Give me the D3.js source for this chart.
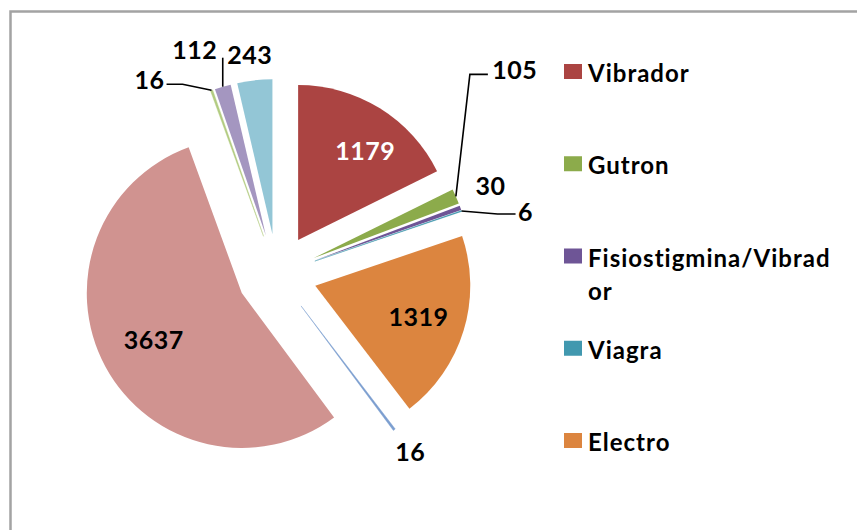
<!DOCTYPE html>
<html>
<head>
<meta charset="utf-8">
<script src="https://cdn.jsdelivr.net/npm/d3@7"></script>
<style>
  body { margin: 0; background: #fff; }
  svg text { font-family: Lato, "Open Sans", sans-serif; font-weight: 700; }
</style>
</head>
<body>
<div class="canvas"></div>
<script>
// values in slice order, clockwise from 12 o'clock
const values = [1179, 105, 30, 6, 1319, 16, 3637, 16, 112, 243];
// only the first five categories fit in the legend
const categories = ['Vibrador', 'Gutron', 'Fisiostigmina/Vibrador', 'Viagra', 'Electro'];
const colours = [
    '#ab4442', '#8cab4b', '#6e5596', '#4198af', '#dc853f',
    '#7c9ed0', '#d09390', '#b3cc82', '#a496c0', '#93c6d6'
];

const dimensions = { width: 857, height: 530 };
const centre = { x: 277, y: 274 };
const radius = 155;
const explode = 40;

// label placement: inside labels sit on the mid angle, outside ones are nudged off the rim
const labelPlace = [
    { inside: true, r: 150, dx: 9, dy: 4, fill: '#fff' },
    { dx: 59, dy: -126, leader: [[-45, 4], [-27, 4]] },
    { dx: 30, dy: -22 },
    { dx: 64, dy: 1, leader: [[-28, 2], [-10, 2]] },
    { inside: true, r: 148, dx: 0, dy: 0 },
    { dx: 16, dy: 22 },
    { inside: true, r: 140, dx: 0, dy: 0 },
    { dx: -62, dy: -10, leader: [[33, 4], [17, 4]] },
    { dx: -28, dy: -37, leader: [[28, 8]] },
    { dx: -5, dy: -25 }
];

const svg = d3.select('.canvas')
    .append('svg')
    .attr('width', dimensions.width)
    .attr('height', dimensions.height);

// chart area border (runs off the right and bottom of the picture)
svg.append('rect')
    .attr('x', 10.5)
    .attr('y', 11.5)
    .attr('width', 1000)
    .attr('height', 1000)
    .attr('fill', 'none')
    .attr('stroke', '#a3a3a3')
    .attr('stroke-width', 2.5);

const pie = d3.pie().sort(null).value(d => d);
const arc = d3.arc().innerRadius(0).outerRadius(radius);
const arcs = pie(values);

const dir = a => [Math.sin(a), -Math.cos(a)];
const mid = d => (d.startAngle + d.endAngle) / 2;

const graph = svg.append('g')
    .attr('transform', `translate(${centre.x}, ${centre.y})`);

graph.selectAll('.slice')
    .data(arcs)
    .enter()
    .append('path')
        .attr('class', 'slice')
        .attr('fill', (d, i) => colours[i])
        .attr('stroke', (d, i) => d.value < 20 ? colours[i] : 'none')
        .attr('stroke-width', 0.4)
        .attr('d', arc)
        .attr('transform', d => {
            const [x, y] = dir(mid(d));
            return `translate(${x * explode}, ${y * explode})`;
        });

// label positions
const labels = arcs.map((d, i) => {
    const p = labelPlace[i];
    const [ux, uy] = dir(mid(d));
    const rim = [ux * (radius + explode), uy * (radius + explode)];
    const pos = p.inside
        ? [ux * p.r + p.dx, uy * p.r + p.dy]
        : [rim[0] + p.dx, rim[1] + p.dy];
    return { value: d.value, rim, pos, place: p };
});

const leader = d3.line();
graph.selectAll('.leader')
    .data(labels.filter(l => l.place.leader))
    .enter()
    .append('path')
        .attr('class', 'leader')
        .attr('fill', 'none')
        .attr('stroke', '#000')
        .attr('stroke-width', 1.6)
        .attr('d', l => leader([l.rim].concat(l.place.leader.map(o => [l.pos[0] + o[0], l.pos[1] + o[1]]))));

graph.selectAll('.label')
    .data(labels)
    .enter()
    .append('text')
        .attr('class', 'label')
        .attr('x', l => l.pos[0])
        .attr('y', l => l.pos[1])
        .attr('dy', '0.36em')
        .attr('text-anchor', 'middle')
        .attr('font-size', 25)
        .attr('letter-spacing', 0.5)
        .attr('fill', l => l.place.fill || '#000')
        .text(l => l.value);

// legend
const legendY = d3.scalePoint()
    .domain(categories)
    .range([64, 433]);

const legend = svg.selectAll('.legend')
    .data(categories)
    .enter()
    .append('g')
        .attr('class', 'legend')
        .attr('transform', d => `translate(564, ${legendY(d)})`);

legend.append('rect')
    .attr('width', 18)
    .attr('height', 15)
    .attr('fill', (d, i) => colours[i]);

legend.append('text')
    .attr('x', 24)
    .attr('y', 18)
    .attr('font-size', 24)
    .attr('letter-spacing', 1)
    .attr('fill', '#000')
    .each(function (d) {
        // break long names by character like the original legend does
        const text = d3.select(this);
        const maxWidth = 250;
        let line = '';
        let tspan = text.append('tspan').attr('x', 24).attr('dy', 0);
        for (const ch of d) {
            tspan.text(line + ch);
            if (tspan.node().getComputedTextLength() > maxWidth && line) {
                tspan.text(line);
                line = ch;
                tspan = text.append('tspan').attr('x', 24).attr('dy', 33).text(ch);
            } else {
                line += ch;
            }
        }
    });
</script>
</body>
</html>
